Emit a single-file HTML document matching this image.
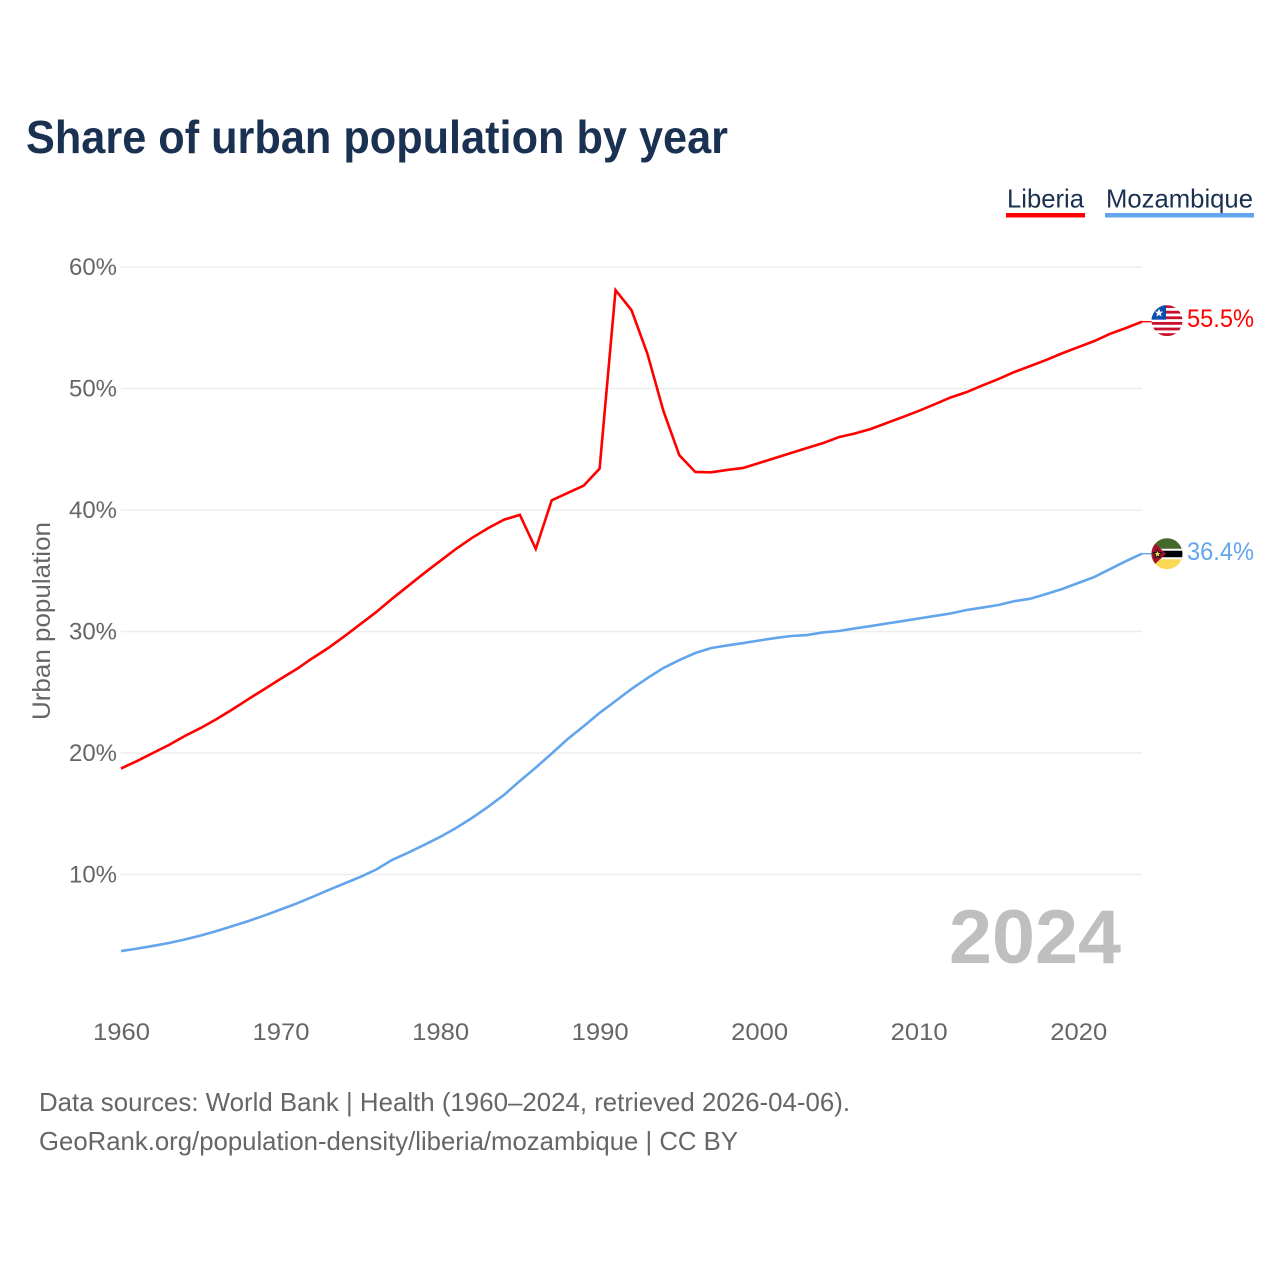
<!DOCTYPE html>
<html lang="en">
<head>
<meta charset="utf-8">
<title>Share of urban population by year</title>
<style>
html,body{margin:0;padding:0;background:#fff;width:1280px;height:1280px;overflow:hidden}
svg{display:block}
text{font-family:"Liberation Sans",sans-serif}
</style>
</head>
<body>
<svg id="chart" width="1280" height="1280" viewBox="0 0 1280 1280" xmlns="http://www.w3.org/2000/svg">
  <defs>
    <clipPath id="flag-clip"><circle cx="0" cy="0" r="15.5"></circle></clipPath>
  </defs>
  <rect width="1280" height="1280" fill="#fff"></rect>
  <text x="26" y="153" font-size="46" font-weight="700" fill="#1a3152" textLength="702" lengthAdjust="spacingAndGlyphs">Share of urban population by year</text>

  <g>
    <g>
      <text x="1007" y="207.5" font-size="26" fill="#1a3152" textLength="77" lengthAdjust="spacingAndGlyphs">Liberia</text>
      <rect x="1006" y="213" width="79" height="4.5" fill="#ff0000"></rect>
    </g>
    <g>
      <text x="1106" y="207.5" font-size="26" fill="#1a3152" textLength="147" lengthAdjust="spacingAndGlyphs">Mozambique</text>
      <rect x="1105" y="213" width="149" height="4.5" fill="#63a5ec"></rect>
    </g>
  </g>

  <g id="grid"></g>
  <g id="y-axis"></g>
  <g id="x-axis"></g>
  <text transform="translate(50,621) rotate(-90)" text-anchor="middle" font-size="25" fill="#666666" textLength="198" lengthAdjust="spacingAndGlyphs">Urban population</text>
  <text x="949" y="963" font-size="76" font-weight="700" fill="#bfbfbf" textLength="172" lengthAdjust="spacingAndGlyphs">2024</text>
  <g id="series"></g>

  <g id="flag-liberia">
    <g clip-path="url(#flag-clip)">
      <rect x="-16" y="-16" width="32" height="32" fill="#ffffff"></rect>
      <rect x="-16" y="-15.5" width="32" height="2.8" fill="#c8102e"></rect>
      <rect x="-16" y="-9.9" width="32" height="2.8" fill="#c8102e"></rect>
      <rect x="-16" y="-4.3" width="32" height="2.8" fill="#c8102e"></rect>
      <rect x="-16" y="1.3" width="32" height="2.8" fill="#c8102e"></rect>
      <rect x="-16" y="6.9" width="32" height="2.8" fill="#c8102e"></rect>
      <rect x="-16" y="12.5" width="32" height="2.8" fill="#c8102e"></rect>
      <rect x="-16" y="-16" width="15" height="15" fill="#0a4fb0"></rect>
      <polygon points="-8,-12 -6.8,-9 -3.8,-9 -6.2,-7 -5.3,-4 -8,-5.8 -10.7,-4 -9.8,-7 -12.2,-9 -9.2,-9" fill="#ffffff"></polygon>
    </g>
  </g>
  <g id="flag-mozambique">
    <g clip-path="url(#flag-clip)">
      <rect x="-16" y="-16" width="32" height="11" fill="#47682b"></rect>
      <rect x="-16" y="-5" width="32" height="10" fill="#000000"></rect>
      <rect x="-16" y="-5" width="32" height="2" fill="#ffffff"></rect>
      <rect x="-16" y="3.5" width="32" height="2" fill="#ffffff"></rect>
      <rect x="-16" y="5.5" width="32" height="11" fill="#fcd955"></rect>
      <polygon points="-16,-14 -1,0 -16,14" fill="#a6122c"></polygon>
      <polygon points="-9.5,-4 -8.3,-1.2 -5.3,-1 -7.6,1 -6.9,4 -9.5,2.4 -12.1,4 -11.4,1 -13.7,-1 -10.7,-1.2" fill="#f6d64f" stroke="#111" stroke-width="1"></polygon>
    </g>
  </g>
  <g id="value-labels"></g>

  <text x="39" y="1111" font-size="26" fill="#666666" textLength="811" lengthAdjust="spacingAndGlyphs">Data sources: World Bank | Health (1960–2024, retrieved 2026-04-06).</text>
  <text x="39" y="1150" font-size="26" fill="#666666" textLength="699" lengthAdjust="spacingAndGlyphs">GeoRank.org/population-density/liberia/mozambique | CC BY</text>
</svg>
<script>
const years = [1960,1961,1962,1963,1964,1965,1966,1967,1968,1969,1970,1971,1972,1973,1974,1975,1976,1977,1978,1979,1980,1981,1982,1983,1984,1985,1986,1987,1988,1989,1990,1991,1992,1993,1994,1995,1996,1997,1998,1999,2000,2001,2002,2003,2004,2005,2006,2007,2008,2009,2010,2011,2012,2013,2014,2015,2016,2017,2018,2019,2020,2021,2022,2023,2024];
const liberia = [18.72,19.34,20.0,20.66,21.4,22.06,22.8,23.6,24.45,25.27,26.1,26.9,27.8,28.65,29.6,30.6,31.6,32.7,33.75,34.8,35.8,36.8,37.7,38.5,39.2,39.6,36.8,40.8,41.4,42.0,43.4,58.1,56.45,52.85,48.15,44.5,43.13,43.1,43.3,43.46,43.87,44.28,44.69,45.1,45.5,46.0,46.3,46.67,47.16,47.65,48.15,48.7,49.26,49.7,50.25,50.78,51.36,51.85,52.35,52.9,53.4,53.9,54.5,54.98,55.5];
const mozambique = [3.7,3.9,4.12,4.36,4.65,4.98,5.35,5.76,6.17,6.63,7.12,7.61,8.15,8.72,9.26,9.8,10.41,11.2,11.8,12.43,13.09,13.83,14.65,15.56,16.54,17.7,18.8,19.96,21.15,22.2,23.3,24.28,25.27,26.17,27.0,27.65,28.23,28.64,28.85,29.05,29.26,29.46,29.63,29.71,29.92,30.04,30.25,30.45,30.66,30.86,31.07,31.28,31.48,31.77,31.97,32.18,32.5,32.7,33.09,33.5,33.99,34.48,35.14,35.8,36.4];
const yTicks = [10,20,30,40,50,60];
const xTicks = [1960,1970,1980,1990,2000,2010,2020];
const liberiaLabel = "55.5%";
const mozambiqueLabel = "36.4%";

const SVG_NS = "http://www.w3.org/2000/svg";
const xs = function (year) { return 121 + (year - 1960) * (1021 / 64); };
const ys = function (value) { return 874.5 - (value - 10) * 12.15; };

function make(tag, parentId, attrs) {
  const el = document.createElementNS(SVG_NS, tag);
  Object.keys(attrs).forEach(function (k) { el.setAttribute(k, attrs[k]); });
  document.getElementById(parentId).appendChild(el);
  return el;
}

yTicks.forEach(function (t) {
  const line = make("line", "grid", { x1: 121, x2: 1142, y1: ys(t), y2: ys(t), stroke: "#eeeeee", "stroke-width": 1.6 });
  
  
  const label = make("text", "y-axis", { x: 117, y: ys(t) + 8, "text-anchor": "end", "font-size": 24, fill: "#666666", textLength: 48, lengthAdjust: "spacingAndGlyphs" });
  label.textContent = t + "%";
  
  
});

xTicks.forEach(function (t) {
  const label = make("text", "x-axis", { x: xs(t) + 0.5, y: 1040, "text-anchor": "middle", "font-size": 24, fill: "#666666", textLength: 57, lengthAdjust: "spacingAndGlyphs" });
  label.textContent = String(t);
  
  
});

function drawSeries(values, color, name) {
  const pts = values.map(function (v, i) { return xs(years[i]).toFixed(2) + "," + ys(v).toFixed(2); });
  const path = make("polyline", "series", { points: pts.join(" "), fill: "none", stroke: color, "stroke-width": 2.6, "stroke-linejoin": "miter" });
  
  
  const last = ys(values[values.length - 1]);
  const stub = make("line", "series", { x1: xs(years[years.length - 1]), x2: 1152, y1: last, y2: last, stroke: color, "stroke-width": 1.4 });
  
  
  return last;
}

const liberiaEnd = drawSeries(liberia, "#ff0000", "line-liberia");
const mozambiqueEnd = drawSeries(mozambique, "#63a5ec", "line-mozambique");

document.getElementById("flag-liberia").setAttribute("transform", "translate(1167," + (liberiaEnd - 1) + ")");
document.getElementById("flag-mozambique").setAttribute("transform", "translate(1167," + mozambiqueEnd + ")");

const libText = make("text", "value-labels", { x: 1187, y: liberiaEnd + 5.5, "font-size": 25, fill: "#ff0000", textLength: 67, lengthAdjust: "spacingAndGlyphs" });
libText.textContent = liberiaLabel;


const mozText = make("text", "value-labels", { x: 1187, y: mozambiqueEnd + 6.5, "font-size": 25, fill: "#63a5ec", textLength: 67, lengthAdjust: "spacingAndGlyphs" });
mozText.textContent = mozambiqueLabel;


</script>
</body>
</html>
